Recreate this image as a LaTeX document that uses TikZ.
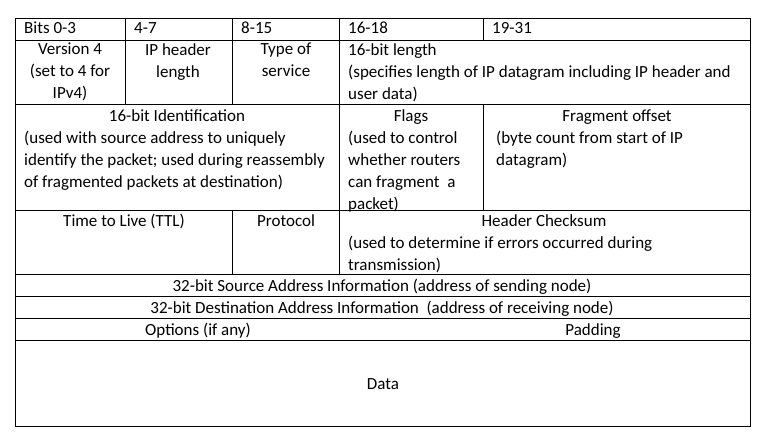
\documentclass[tikz,border=0pt]{standalone}
\usepackage{fontspec}
\setmainfont{Carlito}
\begin{document}
\begin{tikzpicture}[x=1pt,y=-1pt,
    every node/.style={inner sep=0pt,font=\fontsize{17}{22}\selectfont},
    lefttxt/.style={anchor=base west,align=left},
    midtxt/.style={anchor=base,align=center},
    leftpar/.style={anchor=north west,align=left},
    midpar/.style={anchor=north,align=center},
    grid line/.style={line width=0.8pt}]
    \useasboundingbox (0,0) rectangle (770,439);
    % frame and row lines
    \draw[grid line] (15,18) rectangle (750,426);
    \foreach \y in {40,104,210,274,296,318,340}
        \draw[grid line] (15,\y) -- (750,\y);
    % column lines
    \foreach \x in {125,232,339}
        \draw[grid line] (\x,18) -- (\x,104);
    \draw[grid line] (483,18) -- (483,40);
    \draw[grid line] (339,104) -- (339,274);
    \draw[grid line] (483,104) -- (483,210);
    \draw[grid line] (232,210) -- (232,274);

    % bit ranges
    \node[lefttxt] (bits03) at (24,33) {Bits 0-3};
    \node[lefttxt] (bits47) at (134,33) {4-7};
    \node[lefttxt] (bits815) at (241,33) {8-15};
    \node[lefttxt] (bits1618) at (348,33) {16-18};
    \node[lefttxt] (bits1931) at (492,33) {19-31};

    % first word
    \node[midpar] (version) at (70,43) {Version 4\\(set to 4 for\\IPv4)};
    \node[midpar] (ihl) at (178,43) {IP header\\length};
    \node[midpar] (tos) at (286,43) {Type of\\service};
    \node[leftpar] (length) at (348,43) {16-bit length\\(specifies length of IP datagram including IP header and\\user data)};

    % second word
    \node[midtxt] (identtitle) at (177,121) {16-bit Identification};
    \node[leftpar] (ident) at (24,131) {(used with source address to uniquely\\identify the packet; used during reassembly\\of fragmented packets at destination)};
    \node[midtxt] (flagstitle) at (411,121) {Flags};
    \node[leftpar] (flags) at (348,131) {(used to control\\whether routers\\can fragment\ \ a\\packet)};
    \node[midtxt] (fragtitle) at (617,121) {Fragment offset};
    \node[leftpar] (frag) at (496,131) {(byte count from start of IP\\datagram)};

    % third word
    \node[midtxt] (ttl) at (124,226) {Time to Live (TTL)};
    \node[midtxt] (proto) at (286,226) {Protocol};
    \node[midtxt] (cksumtitle) at (544,226) {Header Checksum};
    \node[leftpar] (cksum) at (348,236) {(used to determine if errors occurred during\\transmission)};

    % addresses, options, data
    \node[midtxt] (src) at (382,291) {32-bit Source Address Information (address of sending node)};
    \node[midtxt] (dst) at (382,313) {32-bit Destination Address Information\ \ (address of receiving node)};
    \node[midtxt] (options) at (198,335) {Options (if any)};
    \node[midtxt] (padding) at (593,335) {Padding};
    \node[midtxt] (data) at (383,389) {Data};
\end{tikzpicture}
\end{document}
